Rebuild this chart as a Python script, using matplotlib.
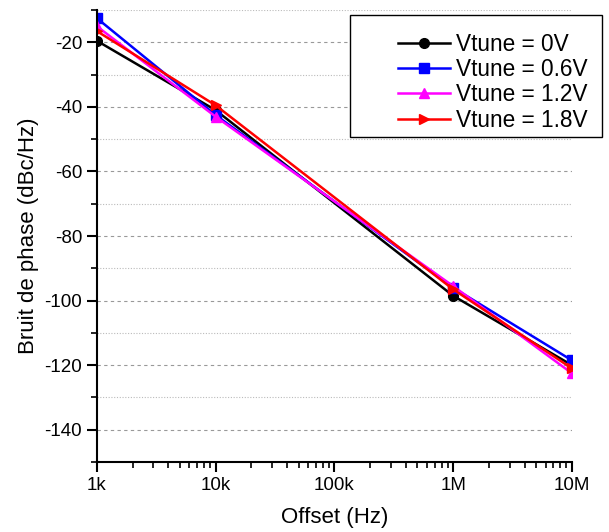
import numpy as np
import matplotlib.pyplot as plt
from matplotlib.patches import Rectangle
from matplotlib.ticker import MultipleLocator, LogLocator, NullFormatter

plt.rcParams['font.family'] = ['Liberation Sans', 'DejaVu Sans']
plt.rcParams['axes.unicode_minus'] = False

# data
offset = [1e3, 1e4, 1e6, 1e7]
vt_0 = [-19.5, -41.0, -98.5, -120.0]
vt_06 = [-12.5, -42.5, -96.0, -118.5]
vt_12 = [-15.0, -43.0, -95.5, -122.5]
vt_18 = [-16.5, -39.5, -96.5, -121.0]

labels = ["Vtune = 0V", "Vtune = 0.6V", "Vtune = 1.2V", "Vtune = 1.8V"]
xtickPos = [1e3, 1e4, 1e5, 1e6, 1e7]
xtickLabels = ["1k", "10k", "100k", "1M", "10M"]

fig = plt.figure(figsize=(6.09, 5.32), dpi=100)
ax = fig.add_axes([0.159, 0.1316, 0.78, 0.8494])

series = [(vt_0, 'black', 'o'), (vt_06, 'blue', 's'),
          (vt_12, 'magenta', '^'), (vt_18, 'red', '>')]
for (vals, col, mk), lab in zip(series, labels):
    ax.plot(offset, vals, color=col, marker=mk, ms=7, lw=1.8, label=lab)

ax.set_xscale('log')
ax.set_xlim(1e3, 1e7)
ax.set_ylim(-150, -10)
ax.set_xticks(xtickPos)
ax.set_xticklabels(xtickLabels)
ax.xaxis.set_minor_locator(LogLocator(base=10, subs=np.arange(2, 10)))
ax.xaxis.set_minor_formatter(NullFormatter())
ax.yaxis.set_major_locator(MultipleLocator(20))
ax.yaxis.set_minor_locator(MultipleLocator(10))

ax.grid(True, which='major', axis='y', ls=(0, (3, 3)), color='#999999', lw=0.8)
ax.grid(True, which='minor', axis='y', ls=(0, (1, 1.5)), color='#bbbbbb', lw=0.8)

for s in ['top', 'right']:
    ax.spines[s].set_visible(False)
for s in ['left', 'bottom']:
    ax.spines[s].set_linewidth(1.5)

ax.tick_params(which='major', length=7, width=1.5, labelsize=13.5, direction='out')
ax.tick_params(which='minor', length=4, width=1.2, direction='out')

ax.set_xlabel('Offset (Hz)', fontsize=16, labelpad=10)
ax.set_ylabel('Bruit de phase (dBc/Hz)', fontsize=16, labelpad=4)

# legend box (wider than its content, as in the original)
ax.add_patch(Rectangle((0.5747, 0.7425), 0.4138, 0.2293,
                       transform=fig.transFigure, facecolor='white',
                       edgecolor='black', lw=1.0, zorder=5, clip_on=False))
leg = ax.legend(loc='upper right', bbox_to_anchor=(0.991, 0.968),
                bbox_transform=fig.transFigure, fontsize=16.3, frameon=False,
                handlelength=2.3, handletextpad=0.25, labelspacing=0.1,
                borderpad=0.2)
leg.set_zorder(6)

plt.savefig('out.png', dpi=100)
